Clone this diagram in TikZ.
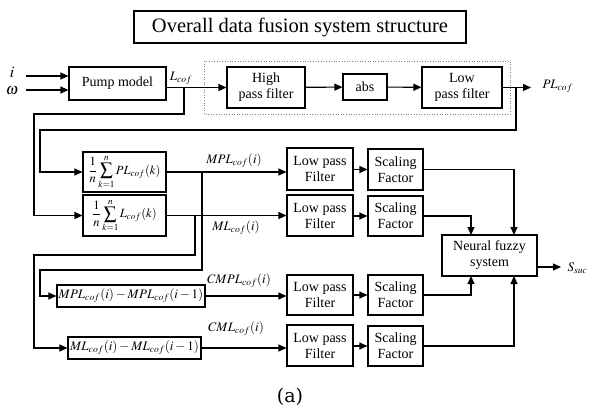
\documentclass[tikz,border=0pt]{standalone}
\usepackage{mathptmx}
\usepackage[no-math]{fontspec}
\setmainfont{Liberation Serif}
\newfontfamily\capfont{DejaVu Serif}
\usetikzlibrary{arrows.meta,calc}
\begin{document}
\begin{tikzpicture}[x=1pt,y=-1pt,
  line width=1.1pt,
  arr/.style={-{Triangle[length=8pt,width=7pt]}},
  blk/.style={draw,rectangle,inner sep=1pt,align=center,font=\fontsize{14}{16}\selectfont},
  mth/.style={font=\fontsize{13}{15}\selectfont},
  lbl/.style={inner sep=1pt,font=\fontsize{13}{15}\selectfont}]
\useasboundingbox (0,0) rectangle (592,410);
% title
\node[blk,minimum width=332pt,minimum height=32pt,font=\fontsize{20.5}{22}\selectfont] (title) at (300,27) {Overall data fusion system structure};
% dotted region
\draw[line width=0.6pt,dotted,gray] (204,61) rectangle (510,114);
% top row
\node[blk,minimum width=97pt,minimum height=33pt] (pump) at (117.5,83.5) {Pump model};
\node[blk,minimum width=78pt,minimum height=41pt] (hpf) at (266,87.5) {High\\pass filter};
\node[blk,minimum width=44pt,minimum height=26pt] (abs) at (365,87) {abs};
\node[blk,minimum width=80pt,minimum height=41pt] (lpf0) at (462,87.5) {Low\\pass filter};
% inputs
\coordinate (ini) at (26,76);
\coordinate (inw) at (26,90);
\node[lbl,font=\fontsize{16}{16}\selectfont] (li) at (12,72) {$i$};
\node[lbl,font=\fontsize{16}{16}\selectfont] (lw) at (12,91) {$\omega$};
\draw[arr] (ini) -- (ini -| pump.west);
\draw[arr] (inw) -- (inw -| pump.west);
% pump -> hpf
\draw[arr] (pump.east |- hpf.west) -- (hpf.west);
\node[lbl] (lcof) at (181,78) {$L_{cof}$};
\draw[arr] (hpf) -- (abs);
\draw[arr] (abs) -- (lpf0);
\coordinate (plout) at (531,87.5);
\draw[arr] (lpf0.east) -- (plout);
\node[lbl,anchor=west] (plcof) at (541,86) {$PL_{cof}$};
% sums
\node[blk,font=\fontsize{12.5}{14}\selectfont,minimum width=83pt,minimum height=40pt] (sum1) at (124.5,172) {$\displaystyle\frac{1}{n}\sum_{k=1}^{n}PL_{cof}(k)$};
\node[blk,font=\fontsize{12.5}{14}\selectfont,minimum width=83pt,minimum height=41pt] (sum2) at (124.5,215.5) {$\displaystyle\frac{1}{n}\sum_{k=1}^{n}L_{cof}(k)$};
% diff boxes
\node[blk,mth,minimum width=148pt,minimum height=22pt] (diff1) at (131,296) {$MPL_{cof}(i)-MPL_{cof}(i-1)$};
\node[blk,mth,minimum width=133pt,minimum height=22pt] (diff2) at (134.5,348) {$ML_{cof}(i)-ML_{cof}(i-1)$};
% low pass filters
\node[blk,minimum width=66pt,minimum height=42pt] (lp1) at (320,169) {Low pass\\Filter};
\node[blk,minimum width=66pt,minimum height=41pt] (lp2) at (320,215.5) {Low pass\\Filter};
\node[blk,minimum width=66pt,minimum height=40pt] (lp3) at (320,295) {Low pass\\Filter};
\node[blk,minimum width=66pt,minimum height=41pt] (lp4) at (320,345.5) {Low pass\\Filter};
% scaling factors
\node[blk,minimum width=55pt,minimum height=41pt] (sf1) at (395.5,169.5) {Scaling\\Factor};
\node[blk,minimum width=55pt,minimum height=40pt] (sf2) at (395.5,216) {Scaling\\Factor};
\node[blk,minimum width=55pt,minimum height=40pt] (sf3) at (395.5,295) {Scaling\\Factor};
\node[blk,minimum width=55pt,minimum height=40pt] (sf4) at (395.5,346) {Scaling\\Factor};
% neural fuzzy
\node[blk,minimum width=95pt,minimum height=41pt] (nfs) at (489.5,255.5) {Neural fuzzy\\system};
% feedback L_cof -> sum2
\draw[arr] (184,87) -- (184,114) -- (34,114) |- (sum2.west);
% feedback PL_cof -> sum1
\draw[arr] (516,87.5) -- (516,130) -- (40,130) |- (sum1.west);
% sum outputs
\draw[arr] (sum1.east) -- (sum1.east -| lp1.west);
\node[lbl] (mpl) at (234,161) {$MPL_{cof}(i)$};
\draw[arr] (sum2.east) -- (sum2.east -| lp2.west);
\node[lbl] (ml) at (236,228) {$ML_{cof}(i)$};
% branches to diffs
\draw[arr] (202,172) -- (202,270) -- (40,270) |- (diff1.west);
\draw[arr] (195,215.5) -- (195,255) -- (34,255) |- (diff2.west);
% diff outputs
\draw[arr] (diff1.east) -- (diff1.east -| lp3.west);
\node[lbl] (cmpl) at (239,281) {$CMPL_{cof}(i)$};
\draw[arr] (diff2.east) -- (diff2.east -| lp4.west);
\node[lbl] (cml) at (236,329) {$CML_{cof}(i)$};
% lp -> sf
\draw[arr] (lp1.east |- sf1.west) -- (sf1.west);
\draw[arr] (lp2.east |- sf2.west) -- (sf2.west);
\draw[arr] (lp3.east |- sf3.west) -- (sf3.west);
\draw[arr] (lp4.east |- sf4.west) -- (sf4.west);
% sf -> nfs
\draw[arr] (sf1.east) -| (514,235);
\draw[arr] (sf2.east) -| (471,235);
\draw[arr] (sf3.east) -| (471,276);
\draw[arr] (sf4.east) -| (514,276);
% output
\coordinate (sout) at (561,267);
\draw[arr] (nfs.east |- sout) -- (sout);
\node[lbl,anchor=west] (ssuc) at (566,268) {$S_{suc}$};
% caption
\node[font=\capfont\fontsize{19}{22}\selectfont] (cap) at (290,397) {(a)};
\end{tikzpicture}
\end{document}
